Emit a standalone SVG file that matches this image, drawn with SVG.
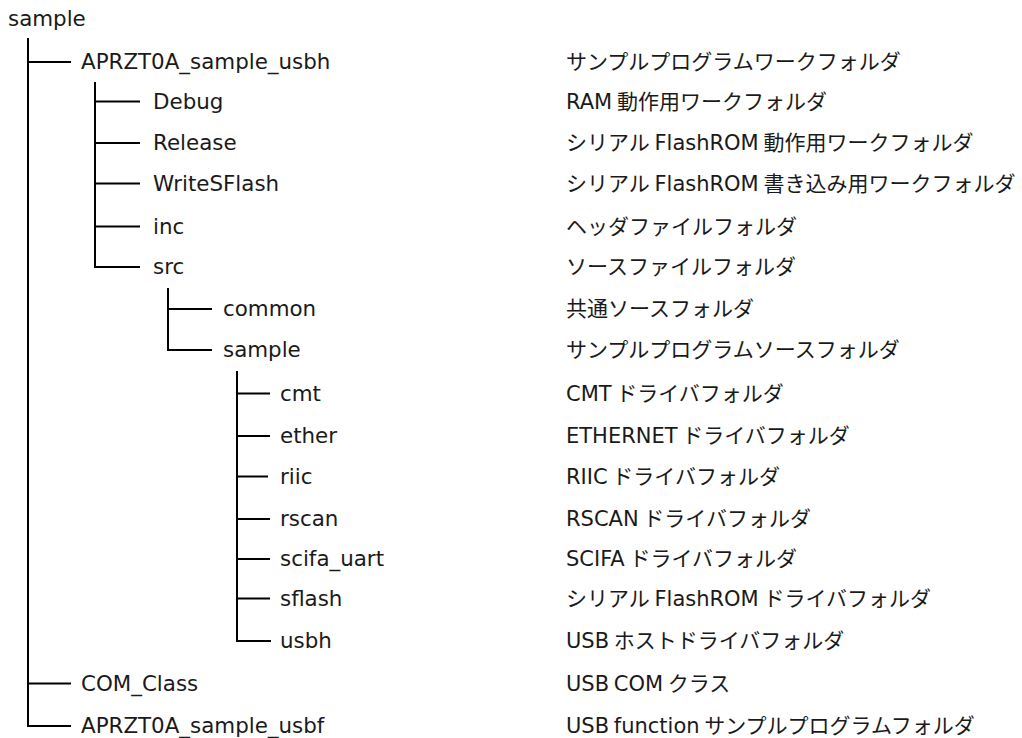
<svg xmlns="http://www.w3.org/2000/svg" width="1022" height="738" viewBox="0 0 1022 738">
  <style>
    text { font-family: "DejaVu Sans", "Noto Sans CJK JP", sans-serif; font-size: 21.4px; fill: #1a1a1a; }
    text.desc { font-size: 21px; word-spacing: -2px; }
    .conn line { stroke: #000; stroke-width: 2; }
  </style>
  <rect width="1022" height="738" fill="#fff"/>

  <!-- tree connectors -->
  <g id="connectors" class="conn">
    <!-- root level -->
    <line x1="28" y1="38" x2="28" y2="727"/>
    <line x1="27" y1="62" x2="71" y2="62"/>
    <line x1="27" y1="683.5" x2="71" y2="683.5"/>
    <line x1="27" y1="726" x2="71" y2="726"/>
    <!-- APRZT0A_sample_usbh children -->
    <line x1="95" y1="82" x2="95" y2="268"/>
    <line x1="94" y1="101.5" x2="140" y2="101.5"/>
    <line x1="94" y1="143" x2="140" y2="143"/>
    <line x1="94" y1="183.5" x2="140" y2="183.5"/>
    <line x1="94" y1="226.5" x2="140" y2="226.5"/>
    <line x1="94" y1="267" x2="140" y2="267"/>
    <!-- src children -->
    <line x1="168" y1="288" x2="168" y2="351"/>
    <line x1="167" y1="309" x2="212" y2="309"/>
    <line x1="167" y1="350" x2="212" y2="350"/>
    <!-- sample children -->
    <line x1="237" y1="371" x2="237" y2="642"/>
    <line x1="236" y1="393.5" x2="270" y2="393.5"/>
    <line x1="236" y1="436" x2="270" y2="436"/>
    <line x1="236" y1="476.5" x2="268" y2="476.5"/>
    <line x1="236" y1="519" x2="270" y2="519"/>
    <line x1="236" y1="559" x2="270" y2="559"/>
    <line x1="236" y1="598.5" x2="270" y2="598.5"/>
    <line x1="236" y1="641" x2="271" y2="641"/>
  </g>

  <g id="n-root"><text x="8" y="26">sample</text></g>

  <g id="n-usbh"><text x="81" y="69">APRZT0A_sample_usbh</text><text class="desc" x="566" y="69">サンプルプログラムワークフォルダ</text></g>
  <g id="n-debug"><text x="153" y="109">Debug</text><text class="desc" x="566" y="109">RAM 動作用ワークフォルダ</text></g>
  <g id="n-release"><text x="153" y="150">Release</text><text class="desc" x="566" y="150">シリアル FlashROM 動作用ワークフォルダ</text></g>
  <g id="n-writesflash"><text x="153" y="191">WriteSFlash</text><text class="desc" x="566" y="191">シリアル FlashROM 書き込み用ワークフォルダ</text></g>
  <g id="n-inc"><text x="153" y="234">inc</text><text class="desc" x="566" y="234">ヘッダファイルフォルダ</text></g>
  <g id="n-src"><text x="153" y="274">src</text><text class="desc" x="566" y="274">ソースファイルフォルダ</text></g>
  <g id="n-common"><text x="223" y="316">common</text><text class="desc" x="566" y="316">共通ソースフォルダ</text></g>
  <g id="n-sample"><text x="223" y="357">sample</text><text class="desc" x="566" y="357">サンプルプログラムソースフォルダ</text></g>
  <g id="n-cmt"><text x="280" y="401">cmt</text><text class="desc" x="566" y="401">CMT ドライバフォルダ</text></g>
  <g id="n-ether"><text x="280" y="443">ether</text><text class="desc" x="566" y="443">ETHERNET ドライバフォルダ</text></g>
  <g id="n-riic"><text x="280" y="484">riic</text><text class="desc" x="566" y="484">RIIC ドライバフォルダ</text></g>
  <g id="n-rscan"><text x="280" y="526">rscan</text><text class="desc" x="566" y="526">RSCAN ドライバフォルダ</text></g>
  <g id="n-scifa"><text x="280" y="566">scifa_uart</text><text class="desc" x="566" y="566">SCIFA ドライバフォルダ</text></g>
  <g id="n-sflash"><text x="280" y="606">sflash</text><text class="desc" x="566" y="606">シリアル FlashROM ドライバフォルダ</text></g>
  <g id="n-usbh-drv"><text x="280" y="648">usbh</text><text class="desc" x="566" y="648">USB ホストドライバフォルダ</text></g>
  <g id="n-comclass"><text x="81" y="691">COM_Class</text><text class="desc" x="566" y="691">USB COM クラス</text></g>
  <g id="n-usbf"><text x="81" y="733">APRZT0A_sample_usbf</text><text class="desc" x="566" y="733">USB function サンプルプログラムフォルダ</text></g>
</svg>
